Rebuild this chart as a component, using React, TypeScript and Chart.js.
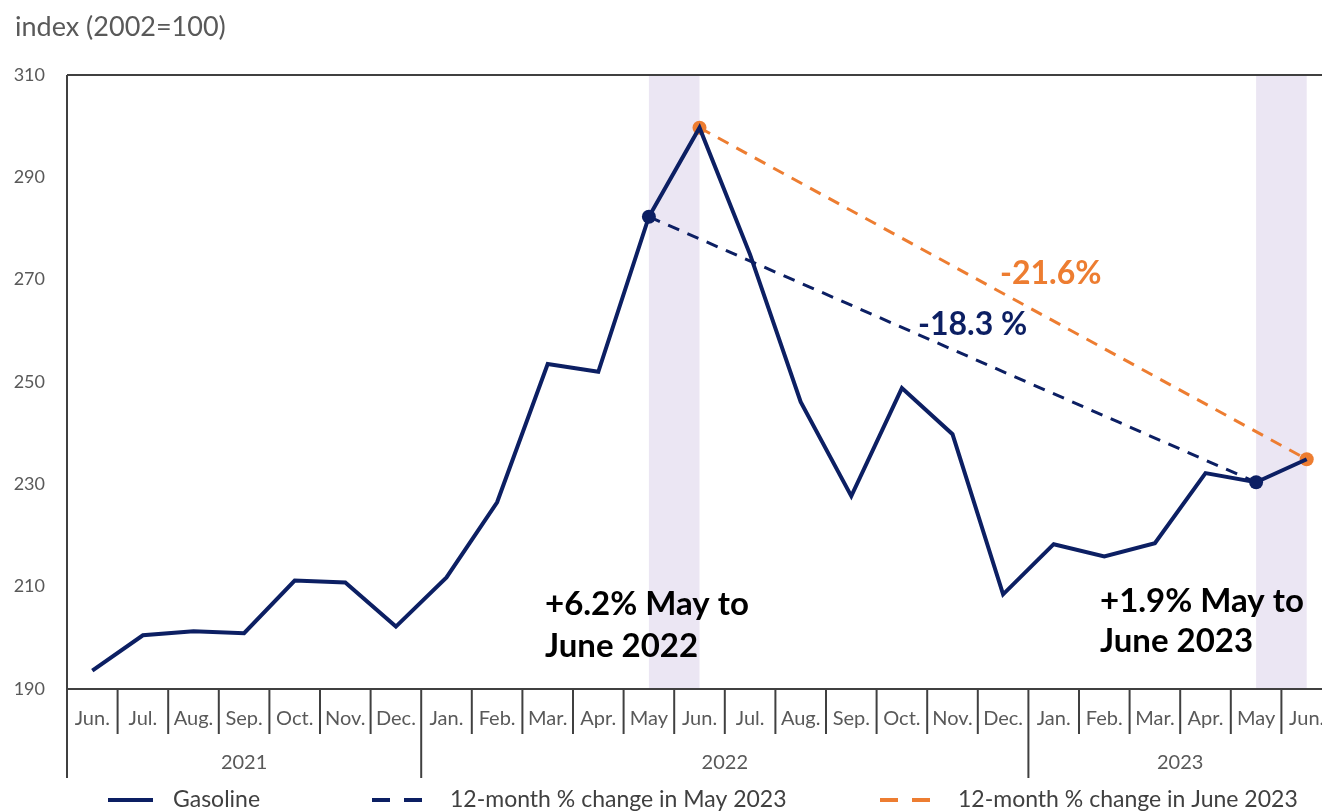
import React, { useEffect, useRef } from "react";
import { Chart, registerables } from "chart.js";

Chart.register(...registerables);

const monthLabels = [
  "Jun.", "Jul.", "Aug.", "Sep.", "Oct.", "Nov.", "Dec.",
  "Jan.", "Feb.", "Mar.", "Apr.", "May", "Jun.", "Jul.", "Aug.", "Sep.", "Oct.", "Nov.", "Dec.",
  "Jan.", "Feb.", "Mar.", "Apr.", "May", "Jun.",
];
const years = [
  { label: "2021", start: 0, end: 7 },
  { label: "2022", start: 7, end: 19 },
  { label: "2023", start: 19, end: 25 },
];
const gasoline = [
  193.6, 200.5, 201.3, 200.9, 211.2, 210.8, 202.2,
  211.8, 226.5, 253.5, 252.0, 282.3, 299.7, 274.9, 246.1, 227.7, 248.8, 239.8, 208.5,
  218.3, 215.9, 218.5, 232.2, 230.4, 234.9,
];
const mayIdx = [11, 23];
const junIdx = [12, 24];
const yTicks = [190, 210, 230, 250, 270, 290, 310];
const bands = [
  [11, 12],
  [23, 24],
];

const NAVY = "#0c1f63";
const ORANGE = "#ed7d31";
const GRAY = "#595959";
const AXIS = "#404040";
const FONT = "Lato, 'Open Sans', sans-serif";

const mayLine = gasoline.map((v, i) => (mayIdx.includes(i) ? v : null));
const junLine = gasoline.map((v, i) => (junIdx.includes(i) ? v : null));

const customPlugin = {
  id: "custom",
  beforeDatasetsDraw(chart: any) {
    const { ctx, chartArea, scales } = chart;
    const x = scales.x;
    ctx.save();
    ctx.fillStyle = "#ebe6f3";
    bands.forEach(([a, b]) => {
      const x1 = x.getPixelForValue(a);
      const x2 = x.getPixelForValue(b);
      ctx.fillRect(x1, chartArea.top + 1, x2 - x1, chartArea.bottom - chartArea.top - 1);
    });
    ctx.restore();
  },
  afterDatasetsDraw(chart: any) {
    const { ctx, chartArea, scales } = chart;
    const x = scales.x;
    const { left, right, top, bottom } = chartArea;
    const half = (x.getPixelForValue(1) - x.getPixelForValue(0)) / 2;
    ctx.save();
    // frame lines
    ctx.strokeStyle = AXIS;
    ctx.lineWidth = 2;
    ctx.beginPath();
    ctx.moveTo(left, top);
    ctx.lineTo(right, top);
    ctx.moveTo(left, bottom);
    ctx.lineTo(right, bottom);
    ctx.moveTo(left, top);
    ctx.lineTo(left, bottom + 89);
    ctx.stroke();
    // month separators
    for (let i = 1; i <= monthLabels.length; i++) {
      const px = x.getPixelForValue(i) - half;
      const isYear = years.some((yr) => yr.start === i && i > 0);
      ctx.beginPath();
      ctx.moveTo(px, bottom);
      ctx.lineTo(px, bottom + (isYear ? 89 : 45));
      ctx.stroke();
    }
    // month labels
    ctx.fillStyle = GRAY;
    ctx.font = `20px ${FONT}`;
    ctx.textAlign = "center";
    ctx.textBaseline = "middle";
    monthLabels.forEach((m, i) => {
      ctx.fillText(m, x.getPixelForValue(i), bottom + 30);
    });
    // year labels
    ctx.font = `20px ${FONT}`;
    years.forEach((yr) => {
      const cx = (x.getPixelForValue(yr.start) + x.getPixelForValue(yr.end - 1)) / 2;
      ctx.fillText(yr.label, cx, bottom + 74);
    });
    // title
    ctx.textAlign = "left";
    ctx.font = `27px ${FONT}`;
    ctx.fillText("index (2002=100)", 15, 27);
    // annotations
    ctx.font = `bold 32px ${FONT}`;
    ctx.fillStyle = ORANGE;
    ctx.fillText("-21.6%", 1000, 274);
    ctx.font = `bold 32px ${FONT}`;
    ctx.fillStyle = NAVY;
    ctx.fillText("-18.3 %", 918, 325);
    ctx.fillStyle = "#000000";
    ctx.font = `bold 33px ${FONT}`;
    ctx.fillText("+6.2% May to", 545, 604);
    ctx.fillText("June 2022", 545, 646);
    ctx.fillText("+1.9% May to", 1100, 601);
    ctx.fillText("June 2023", 1100, 641);
    // legend
    const ly = 800;
    ctx.font = `23px ${FONT}`;
    ctx.fillStyle = AXIS;
    const legend = [
      { text: "Gasoline", color: NAVY, dash: [] as number[], x0: 108, x1: 153, tx: 173 },
      { text: "12-month % change in May 2023", color: NAVY, dash: [18, 14], x0: 372, x1: 430, tx: 450 },
      { text: "12-month % change in June 2023", color: ORANGE, dash: [18, 14], x0: 880, x1: 940, tx: 958 },
    ];
    legend.forEach((l) => {
      ctx.strokeStyle = l.color;
      ctx.lineWidth = 4;
      ctx.setLineDash(l.dash);
      ctx.beginPath();
      ctx.moveTo(l.x0, ly);
      ctx.lineTo(l.x1, ly);
      ctx.stroke();
      ctx.setLineDash([]);
      ctx.fillStyle = AXIS;
      ctx.fillText(l.text, l.tx, ly);
    });
    ctx.restore();
  },
};

export default function App() {
  const ref = useRef<HTMLCanvasElement | null>(null);
  useEffect(() => {
    if (!ref.current) return;
    const chart = new Chart(ref.current, {
      type: "line",
      data: {
        labels: monthLabels,
        datasets: [
          {
            label: "12-month % change in June 2023",
            data: junLine,
            borderColor: ORANGE,
            backgroundColor: ORANGE,
            borderWidth: 3,
            borderDash: [12, 9],
            spanGaps: true,
            pointRadius: 7,
            pointBackgroundColor: ORANGE,
            pointBorderWidth: 0,
            order: 3,
          },
          {
            label: "12-month % change in May 2023",
            data: mayLine,
            borderColor: NAVY,
            backgroundColor: NAVY,
            borderWidth: 3,
            borderDash: [12, 9],
            spanGaps: true,
            pointRadius: 0,
            order: 2,
          },
          {
            label: "Gasoline",
            data: gasoline,
            borderColor: NAVY,
            backgroundColor: NAVY,
            borderWidth: 4,
            tension: 0,
            pointRadius: gasoline.map((_, i) => (mayIdx.includes(i) ? 7 : 0)),
            pointBackgroundColor: NAVY,
            pointBorderWidth: 0,
            order: 1,
          },
        ],
      },
      options: {
        animation: false,
        responsive: false,
        maintainAspectRatio: false,
        layout: { padding: { top: 75, bottom: 122, left: 0, right: 13 } },
        plugins: { legend: { display: false }, tooltip: { enabled: false } },
        scales: {
          x: {
            type: "category",
            offset: true,
            display: false,
          },
          y: {
            min: 190,
            max: 310,
            afterBuildTicks(scale: any) {
              scale.ticks = yTicks.map((v) => ({ value: v }));
            },
            afterFit(scale: any) {
              scale.width = 67;
            },
            grid: { display: false, drawTicks: false },
            border: { display: false },
            ticks: {
              padding: 22,
              color: GRAY,
              font: { family: FONT, size: 18 },
            },
          },
        },
      },
      plugins: [customPlugin],
    });
    return () => chart.destroy();
  }, []);
  return (
    <div style={{ position: "fixed", left: 0, top: 0, width: 1322, height: 811, overflow: "hidden", background: "#fff" }}>
      <canvas ref={ref} width={1345} height={811} style={{ width: 1345, height: 811, display: "block" }} />
    </div>
  );
}
